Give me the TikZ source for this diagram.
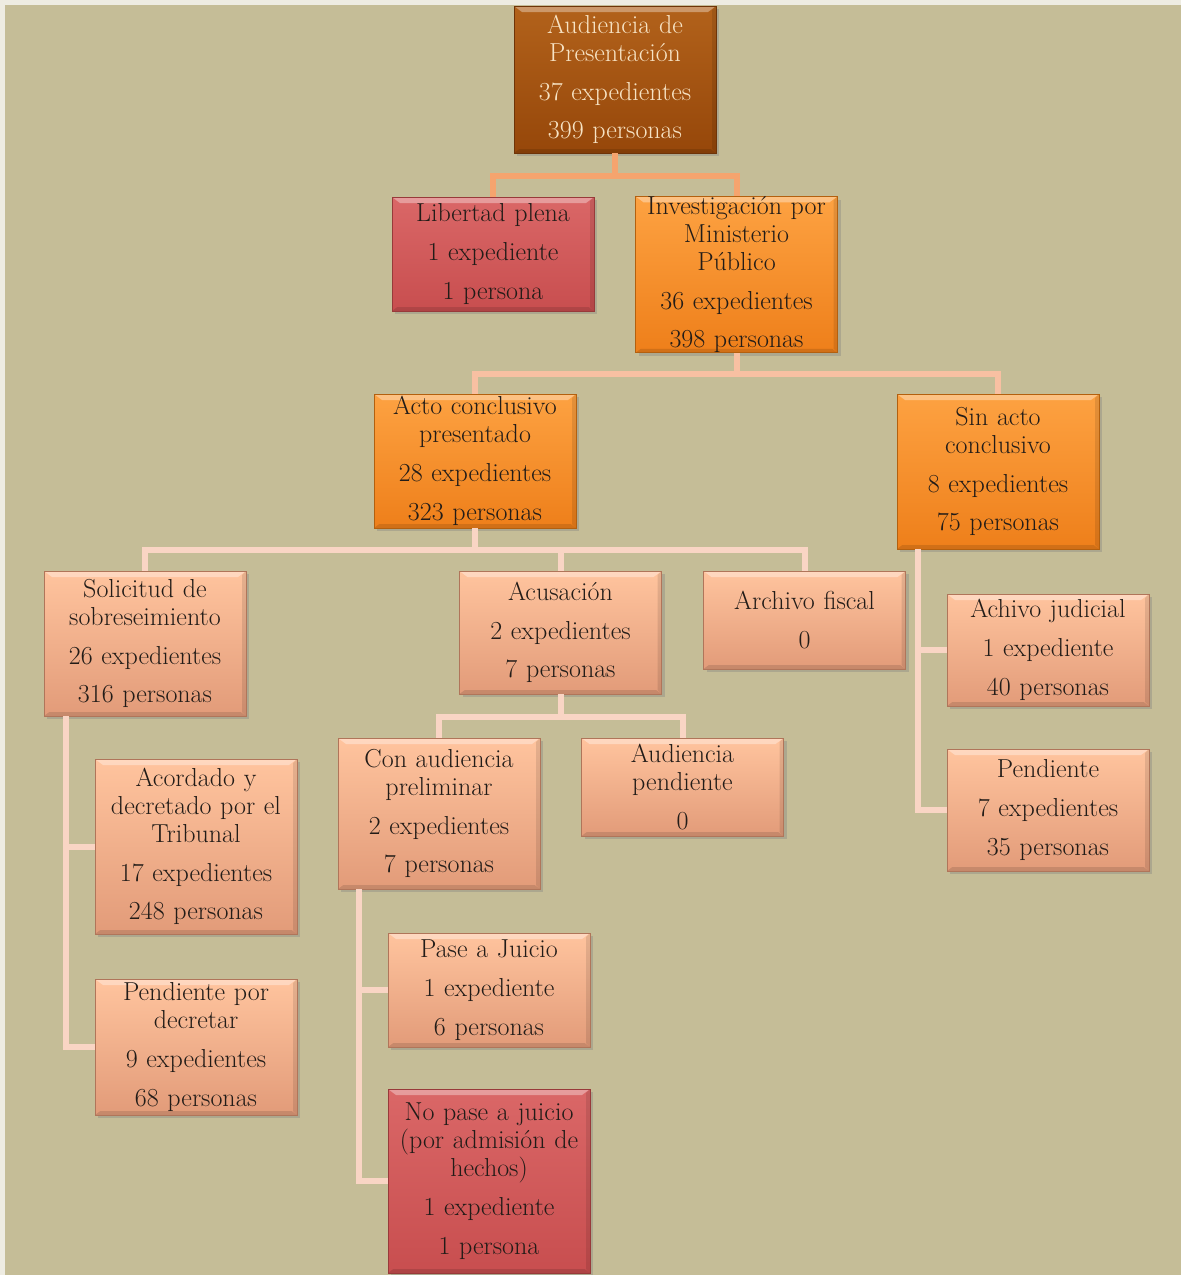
\documentclass[tikz,border=0pt]{standalone}
\usepackage{tikz}
\usetikzlibrary{shadows}

\definecolor{fondo}{HTML}{C5BD97}
\definecolor{marco}{HTML}{EEECE2}
\definecolor{texto}{HTML}{221C18}
\definecolor{crema}{HTML}{F7E3C4}
\definecolor{marronA}{HTML}{B2621B}
\definecolor{marronB}{HTML}{96470A}
\definecolor{marronC}{HTML}{6E3408}
\definecolor{rojaA}{HTML}{DA6767}
\definecolor{rojaB}{HTML}{C84E4F}
\definecolor{rojaC}{HTML}{983A3A}
\definecolor{naranjaA}{HTML}{FDA242}
\definecolor{naranjaB}{HTML}{EE7F1A}
\definecolor{naranjaC}{HTML}{B3600F}
\definecolor{salmonA}{HTML}{FFC49E}
\definecolor{salmonB}{HTML}{E29B79}
\definecolor{salmonC}{HTML}{B0755A}
\definecolor{conA}{HTML}{F5A46E}
\definecolor{conB}{HTML}{F8C0A2}
\definecolor{conC}{HTML}{F9D5C4}

\tikzset{
  caja/.style={line width=0.6pt, text width=150pt, inner xsep=0.75pt, inner ysep=0pt,
    align=center, font=\fontsize{19.5}{21}\selectfont, text=texto,
    drop shadow={shadow xshift=2.5pt, shadow yshift=-2.5pt, opacity=0.35},
    path picture={
      \fill[white, opacity=0.35] (path picture bounding box.north west)
        -- (path picture bounding box.north east) -- ++(-6pt,-4.5pt)
        -- ([shift={(6pt,-4.5pt)}]path picture bounding box.north west) -- cycle;
      \fill[black, opacity=0.12] (path picture bounding box.south west)
        -- (path picture bounding box.south east) -- ++(-4pt,3pt)
        -- ([shift={(4pt,3pt)}]path picture bounding box.south west) -- cycle;
      \fill[black, opacity=0.10] (path picture bounding box.south east)
        -- (path picture bounding box.north east) -- ++(-3pt,-3pt)
        -- ([shift={(-3pt,3pt)}]path picture bounding box.south east) -- cycle;
    }},
  marron/.style={caja, top color=marronA, bottom color=marronB, draw=marronC, text=crema},
  roja/.style={caja, top color=rojaA, bottom color=rojaB, draw=rojaC},
  naranja/.style={caja, top color=naranjaA, bottom color=naranjaB, draw=naranjaC},
  salmon/.style={caja, top color=salmonA, bottom color=salmonB, draw=salmonC},
  lineaA/.style={draw=conA, line width=4.5pt},
  lineaB/.style={draw=conB, line width=4.5pt},
  lineaC/.style={draw=conC, line width=4.5pt}
}

\begin{document}
\begin{tikzpicture}[x=0.75pt,y=-0.75pt]
\useasboundingbox (0,0) rectangle (1181,1275);
\fill[marco] (0,0) rectangle (1181,1275);
\fill[fondo] (5,5) rectangle (1181,1275);

% primer nivel
\node[marron, minimum height=110.25pt] (audiencia) at (615,79.5)
  {Audiencia de\\ Presentación\\[8pt] 37 expedientes\\[8pt] 399 personas};
\node[roja, minimum height=85.5pt] (libertad) at (493,254)
  {Libertad plena\\[8pt] 1 expediente\\[8pt] 1 persona};
\node[naranja, minimum height=116.25pt] (investigacion) at (736.5,274.5)
  {Investigación por\\ Ministerio\\ Público\\[8pt] 36 expedientes\\[8pt] 398 personas};

% segundo nivel
\node[naranja, minimum height=100.5pt] (acto) at (475,461)
  {Acto conclusivo\\ presentado\\[8pt] 28 expedientes\\[8pt] 323 personas};
\node[naranja, minimum height=116.25pt] (sinacto) at (998,471.5)
  {Sin acto\\ conclusivo\\[8pt] 8 expedientes\\[8pt] 75 personas};

% tercer nivel
\node[salmon, minimum height=108.75pt] (solicitud) at (145,643.5)
  {Solicitud de\\ sobreseimiento\\[8pt] 26 expedientes\\[8pt] 316 personas};
\node[salmon, minimum height=92.25pt] (acusacion) at (560.5,632.5)
  {Acusación\\[8pt] 2 expedientes\\[8pt] 7 personas};
\node[salmon, minimum height=73.5pt] (archfiscal) at (804.5,620)
  {Archivo fiscal\\[8pt] 0};
\node[salmon, minimum height=84pt] (archjudicial) at (1048,650)
  {Achivo judicial\\[8pt] 1 expediente\\[8pt] 40 personas};
\node[salmon, minimum height=91.5pt] (pendiente) at (1048,810)
  {Pendiente\\[8pt] 7 expedientes\\[8pt] 35 personas};

% cuarto nivel
\node[salmon, minimum height=131.25pt] (acordado) at (196,846.5)
  {Acordado y\\ decretado por el\\ Tribunal\\[8pt] 17 expedientes\\[8pt] 248 personas};
\node[salmon, minimum height=102pt] (pordecretar) at (196,1047)
  {Pendiente por\\ decretar\\[8pt] 9 expedientes\\[8pt] 68 personas};
\node[salmon, minimum height=113.25pt] (preliminar) at (439,813.5)
  {Con audiencia\\ preliminar\\[8pt] 2 expedientes\\[8pt] 7 personas};
\node[salmon, minimum height=73.5pt] (audpendiente) at (682.5,787)
  {Audiencia\\ pendiente\\[8pt] 0};
\node[salmon, minimum height=85.5pt] (juicio) at (489,990)
  {Pase a Juicio\\[8pt] 1 expediente\\[8pt] 6 personas};
\node[roja, minimum height=138pt] (nojuicio) at (489,1181)
  {No pase a juicio\\ (por admisión de\\ hechos)\\[8pt] 1 expediente\\[8pt] 1 persona};

% conectores
\draw[lineaA] (audiencia.south) -- ++(0,23) -| (libertad.north);
\draw[lineaA] (audiencia.south) -- ++(0,23) -| (investigacion.north);
\draw[lineaB] (investigacion.south) -- ++(0,21) -| (acto.north);
\draw[lineaB] (investigacion.south) -- ++(0,21) -| (sinacto.north);
\draw[lineaC] (acto.south) -- ++(0,22) -| (solicitud.north);
\draw[lineaC] (acto.south) -- ++(0,22) -| (acusacion.north);
\draw[lineaC] (acto.south) -- ++(0,22) -| (archfiscal.north);
\draw[lineaC] (acusacion.south) -- ++(0,23) -| (preliminar.north);
\draw[lineaC] (acusacion.south) -- ++(0,23) -| (audpendiente.north);
\draw[lineaC] ([xshift=15.75pt]sinacto.south west) |- (archjudicial.west);
\draw[lineaC] ([xshift=15.75pt]sinacto.south west) |- (pendiente.west);
\draw[lineaC] ([xshift=16.5pt]solicitud.south west) |- (acordado.west);
\draw[lineaC] ([xshift=16.5pt]solicitud.south west) |- (pordecretar.west);
\draw[lineaC] ([xshift=15.75pt]preliminar.south west) |- (juicio.west);
\draw[lineaC] ([xshift=15.75pt]preliminar.south west) |- (nojuicio.west);
\end{tikzpicture}
\end{document}
